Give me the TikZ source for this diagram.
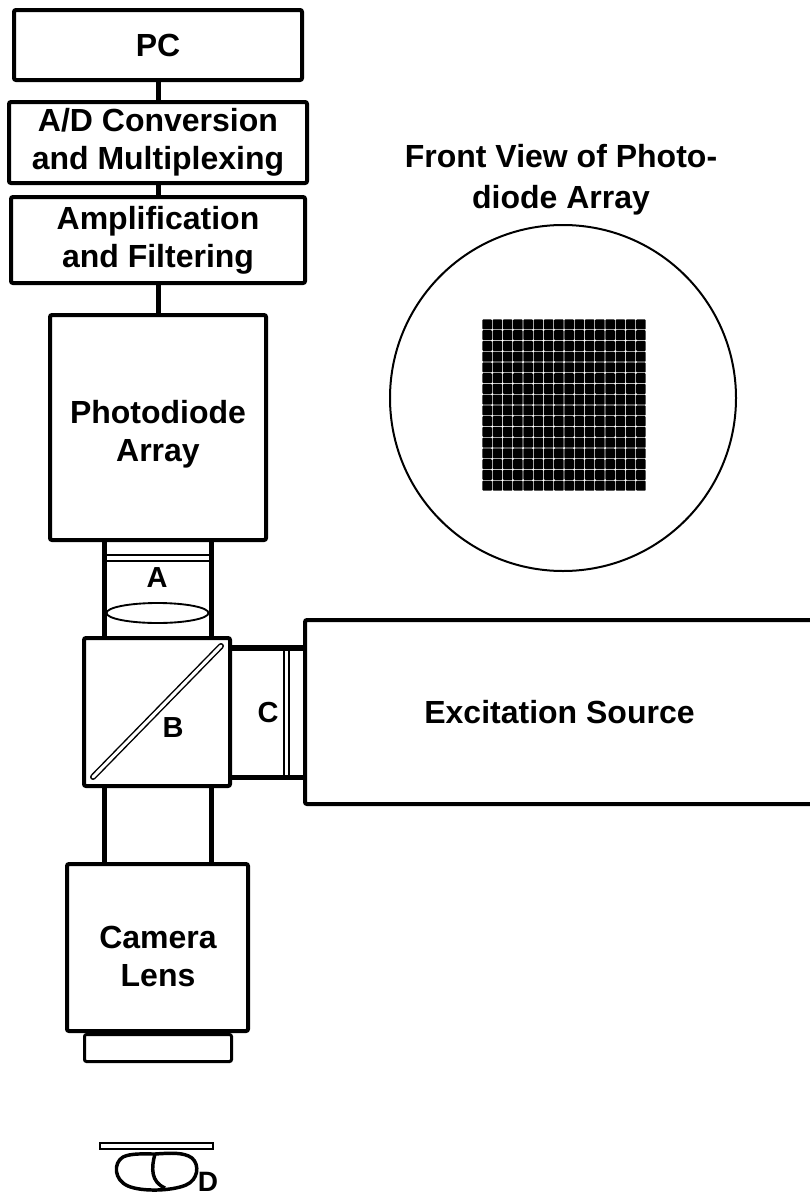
\documentclass[tikz,border=0pt]{standalone}
\usepackage{fontspec}
\setmainfont{Liberation Sans}
\usepackage{tikz}

\begin{document}
\begin{tikzpicture}[x=0.75pt,y=0.75pt,yscale=-1,xscale=1,
  box/.style={draw, line width=3pt, rounded corners=1.5pt, inner sep=0pt, align=center, font=\fontsize{24}{28.5}\selectfont\bfseries},
  txt/.style={inner sep=0pt, align=center, font=\fontsize{24}{28.5}\selectfont\bfseries},
  tag/.style={inner sep=0pt, font=\fontsize{21.75}{26}\selectfont\bfseries},
  wall/.style={line width=3.75pt},
  fine/.style={line width=1pt}]
\useasboundingbox (0,0) rectangle (810,1199);

\draw (158,45) node [box, minimum width=216pt, minimum height=52.5pt] (pc) {PC};
\draw (158,142.5) node [box, minimum width=223.5pt, minimum height=60.75pt] (adc) {A/D Conversion\\and Multiplexing};
\draw (158,240) node [box, minimum width=220.5pt, minimum height=64.5pt] (amp) {Amplification\\and Filtering};
\draw (158,427.5) node [box, minimum width=162pt, minimum height=168.75pt] (pda) {};
\draw (158,434) node [txt] (pdatext) {Photodiode\\Array};
\draw (157,712) node [box, minimum width=109.5pt, minimum height=111pt] (cube) {};
\draw (559.5,712) node [box, minimum width=381.75pt, minimum height=138pt] (exc) {Excitation Source};
\draw (157.5,947.5) node [box, minimum width=135.75pt, minimum height=125.25pt] (cam) {};
\draw (158,956) node [txt] (camtext) {Camera\\Lens};
\draw (158,1048) node [box, line width=2.25pt, minimum width=110.25pt, minimum height=20.25pt] (ring) {};

\draw [wall] (pc) -- (adc);
\draw [wall] (adc) -- (amp);
\draw [wall] (amp) -- (pda);

\draw [wall] (104,0 |- pda.south) -- (104,0 |- cube.north);
\draw [wall] (211,0 |- pda.south) -- (211,0 |- cube.north);
\draw [wall] (104,0 |- cube.south) -- (104,0 |- cam.north);
\draw [wall] (211,0 |- cube.south) -- (211,0 |- cam.north);
\draw [fine] (104,555) -- (211,555);
\draw [fine] (104,561) -- (211,561);
\draw [line width=1.4pt] (157.5,613) ellipse [x radius=51, y radius=10];

\draw [line width=4.5pt] (cube.east |- 0,648) -- (exc.west |- 0,648);
\draw [wall] (cube.east |- 0,777) -- (exc.west |- 0,777);
\draw [fine] (284,648) -- (284,777);
\draw [fine] (289,648) -- (289,777);

\draw [line width=1.1pt, double, double distance=2.3pt, line cap=round] (93,777) -- (221,646);

\draw (157,578) node [tag] (lblA) {A};
\draw (173,728) node [tag] (lblB) {B};
\draw (268,713) node [tag] (lblC) {C};

\draw (561,180) node [inner sep=0pt, align=center, font=\fontsize{24}{30.75}\selectfont\bfseries] (front) {Front View of Photo-\\diode Array};
\draw [line width=1.5pt] (563,398) circle [radius=173];
\foreach \i in {0,...,15}{
  \foreach \j in {0,...,15}{
    \fill [rounded corners=0.6pt] (482.4+\i*10.25,319.4+\j*10.75) rectangle ++(9.5,10);
  }
}

\draw [fine] (100,1143) rectangle (213,1149);
\draw [line width=2.6pt] (155,1154) .. controls (170,1153) and (184,1152) .. (192,1158) .. controls (200,1165) and (198,1180) .. (186,1185) .. controls (172,1191) and (142,1192) .. (128,1186) .. controls (114,1180) and (113,1163) .. (123,1157) .. controls (131,1153) and (145,1154) .. (155,1154);
\draw [line width=2.6pt] (155,1154) .. controls (151,1168) and (151,1182) .. (165,1188);
\draw (208,1182) node [tag, font=\fontsize{21}{25}\selectfont\bfseries] (lblD) {D};
\end{tikzpicture}
\end{document}
